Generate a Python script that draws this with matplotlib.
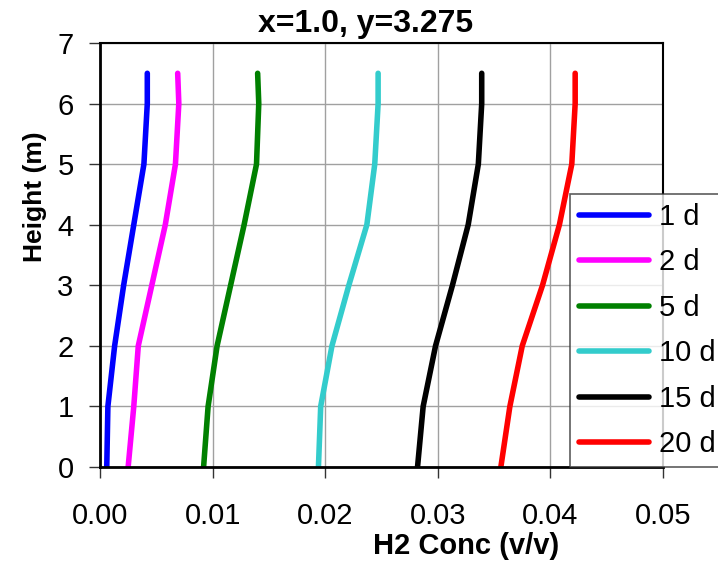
import numpy as np
import matplotlib
matplotlib.use("Agg")
import matplotlib.pyplot as plt

plt.rcParams['font.family'] = ['Liberation Sans', 'DejaVu Sans']

# Heights (m) at which the concentration profiles are reported
height = [0, 1, 2, 3, 4, 5, 6, 6.5]

# H2 concentration (v/v) for each elapsed time
conc_1d = [0.0006, 0.0007, 0.0013, 0.0021, 0.0030, 0.0039, 0.0042, 0.0042]
conc_2d = [0.0025, 0.0030, 0.0034, 0.0046, 0.0058, 0.0067, 0.0070, 0.0069]
conc_5d = [0.0092, 0.0096, 0.0104, 0.0116, 0.0128, 0.0139, 0.0141, 0.0140]
conc_10d = [0.0194, 0.0196, 0.0206, 0.0221, 0.0237, 0.0244, 0.0247, 0.0247]
conc_15d = [0.0282, 0.0287, 0.0298, 0.0313, 0.0327, 0.0336, 0.0339, 0.0339]
conc_20d = [0.0356, 0.0364, 0.0375, 0.0393, 0.0408, 0.0419, 0.0422, 0.0422]

labels = ['1 d', '2 d', '5 d', '10 d', '15 d', '20 d']
colors = ['#0000FF', '#FF00FF', '#008000', '#33CCCC', '#000000', '#FF0000']
series = [conc_1d, conc_2d, conc_5d, conc_10d, conc_15d, conc_20d]

fig = plt.figure(figsize=(7.18, 5.62), dpi=100)
ax = fig.add_axes([100/718, 1 - 467/562, 563/718, 424/562])

for conc, lab, col in zip(series, labels, colors):
    ax.plot(conc, height, color=col, lw=4, label=lab,
            solid_capstyle='round', solid_joinstyle='round')

ax.set_xlim(0, 0.05)
ax.set_ylim(0, 7)
ax.set_xticks(np.arange(0, 0.051, 0.01))
ax.set_xticklabels(['0.00', '0.01', '0.02', '0.03', '0.04', '0.05'])
ax.set_yticks(range(0, 8))
ax.grid(True, color='#a0a0a0', lw=1)
ax.set_axisbelow(True)

for side in ['left', 'bottom']:
    ax.spines[side].set_linewidth(2)
for side in ['top', 'right']:
    ax.spines[side].set_linewidth(1.5)

ax.tick_params(axis='both', labelsize=21, length=8, width=1, color='#333333')
ax.tick_params(axis='x', pad=17)
ax.tick_params(axis='y', pad=11)

fig.text(366/718, 1 - 24/562, 'x=1.0, y=3.275', ha='center', va='center',
         fontsize=23, fontweight='bold')
fig.text(466/718, 1 - 546/562, 'H2 Conc (v/v)', ha='center', va='center',
         fontsize=21, fontweight='bold')
fig.text(35/718, 1 - 197/562, 'Height (m)', ha='center', va='center',
         fontsize=19, fontweight='bold', rotation=90)

leg = ax.legend(loc='lower left', bbox_to_anchor=(570/718, 1 - 467/562),
                bbox_transform=fig.transFigure, fontsize=21, frameon=True,
                fancybox=False, borderpad=0.3, labelspacing=0.6,
                handlelength=2.4, handletextpad=0.35, borderaxespad=0)
leg.get_frame().set_edgecolor('#333333')
leg.get_frame().set_linewidth(1.2)
leg.set_zorder(5)

fig.savefig('out.png', dpi=100)
